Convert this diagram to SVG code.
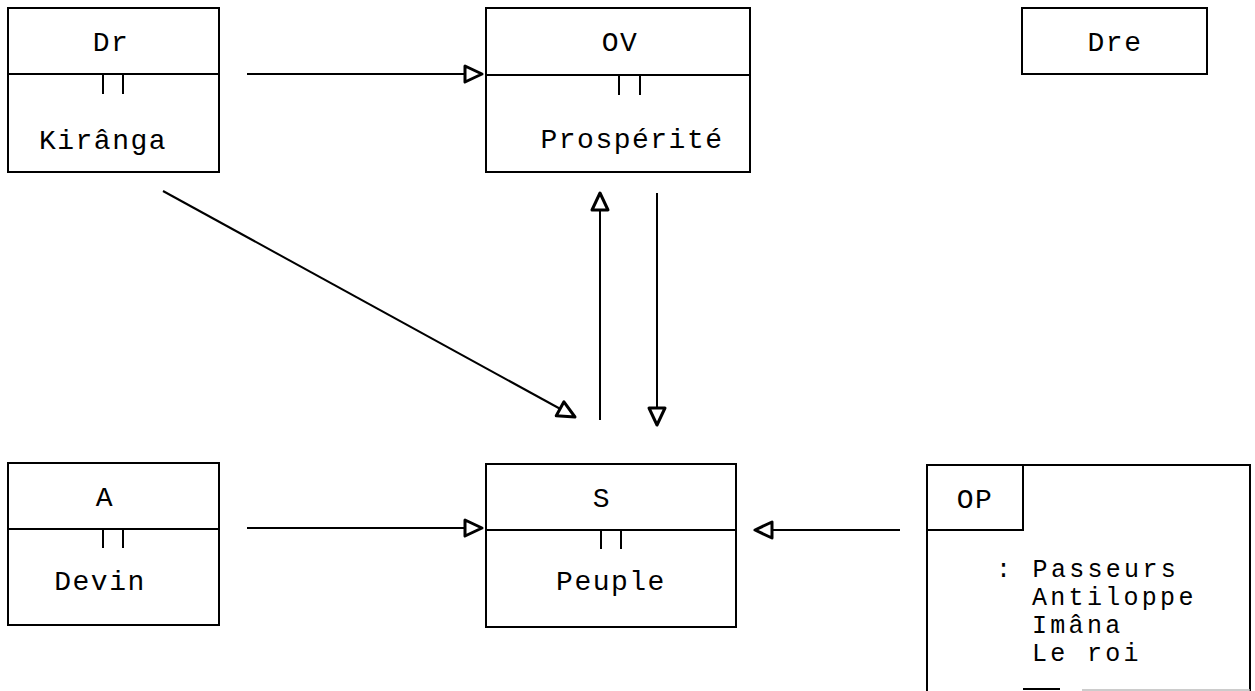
<svg xmlns="http://www.w3.org/2000/svg" width="1255" height="691" viewBox="0 0 1255 691">
<style>
.box{fill:none;stroke:#000;stroke-width:2}
.tk{stroke:#000;stroke-width:2}
.t{font-family:"Liberation Mono","Courier New",monospace;font-size:28px;letter-spacing:1.5px;fill:#000}
.l{font-size:25px;letter-spacing:3.3px}
.c{text-anchor:middle}
.ln{fill:none;stroke:#000;stroke-width:2}
</style>
<defs>
<marker id="ah" viewBox="0 0 22 22" refX="20" refY="11" markerWidth="22" markerHeight="22" markerUnits="userSpaceOnUse" orient="auto">
<path d="M3,3 L20,11 L3,19 Z" fill="#fff" stroke="#000" stroke-width="3" stroke-linejoin="round"/>
</marker>
</defs>
<rect width="1255" height="691" fill="#fff"/>
<g id="node-dr">
<rect class="box" x="8" y="8" width="211" height="164"/>
<line class="box" x1="8" y1="74" x2="219" y2="74"/>
<line class="tk" x1="103" y1="75" x2="103" y2="94"/>
<line class="tk" x1="123" y1="75" x2="123" y2="94"/>
<text class="t c" x="111" y="51">Dr</text>
<text class="t c" x="103" y="149">Kirânga</text>
</g>
<g id="node-ov">
<rect class="box" x="486" y="8" width="264" height="164"/>
<line class="box" x1="486" y1="75" x2="750" y2="75"/>
<line class="tk" x1="619" y1="76" x2="619" y2="95"/>
<line class="tk" x1="640" y1="76" x2="640" y2="95"/>
<text class="t c" x="620" y="51">OV</text>
<text class="t c" x="632" y="148">Prospérité</text>
</g>
<g id="node-dre">
<rect class="box" x="1022" y="8" width="185" height="66"/>
<text class="t c" x="1115" y="51">Dre</text>
</g>
<g id="node-a">
<rect class="box" x="8" y="463" width="211" height="162"/>
<line class="box" x1="8" y1="529" x2="219" y2="529"/>
<line class="tk" x1="103" y1="530" x2="103" y2="548"/>
<line class="tk" x1="123" y1="530" x2="123" y2="548"/>
<text class="t c" x="105" y="506">A</text>
<text class="t c" x="100" y="590">Devin</text>
</g>
<g id="node-s">
<rect class="box" x="486" y="464" width="250" height="163"/>
<line class="box" x1="486" y1="530" x2="736" y2="530"/>
<line class="tk" x1="601" y1="531" x2="601" y2="549"/>
<line class="tk" x1="621" y1="531" x2="621" y2="549"/>
<text class="t c" x="602" y="507">S</text>
<text class="t c" x="611" y="590">Peuple</text>
</g>
<g id="node-op">
<path class="box" d="M927,691 L927,465 L1250,465 L1250,691"/>
<line class="box" x1="1023" y1="689" x2="1060" y2="689"/>
<line x1="1082" y1="690" x2="1250" y2="690" stroke="#bbb" stroke-width="1.5"/>
<rect class="box" x="927" y="465" width="96" height="65"/>
<text class="t c" x="975" y="508">OP</text>
<text class="t l" x="996" y="577">: Passeurs</text>
<text class="t l" x="1032" y="605">Antiloppe</text>
<text class="t l" x="1032" y="633">Imâna</text>
<text class="t l" x="1032" y="661">Le roi</text>
</g>
<g id="connectors">
<line class="ln" x1="247" y1="74" x2="482" y2="74" marker-end="url(#ah)"/>
<line class="ln" x1="163" y1="191" x2="575" y2="417" marker-end="url(#ah)"/>
<line class="ln" x1="600" y1="420" x2="600" y2="193" marker-end="url(#ah)"/>
<line class="ln" x1="657" y1="193" x2="657" y2="425" marker-end="url(#ah)"/>
<line class="ln" x1="247" y1="528" x2="482" y2="528" marker-end="url(#ah)"/>
<line class="ln" x1="900" y1="530" x2="755" y2="530" marker-end="url(#ah)"/>
</g>
</svg>
